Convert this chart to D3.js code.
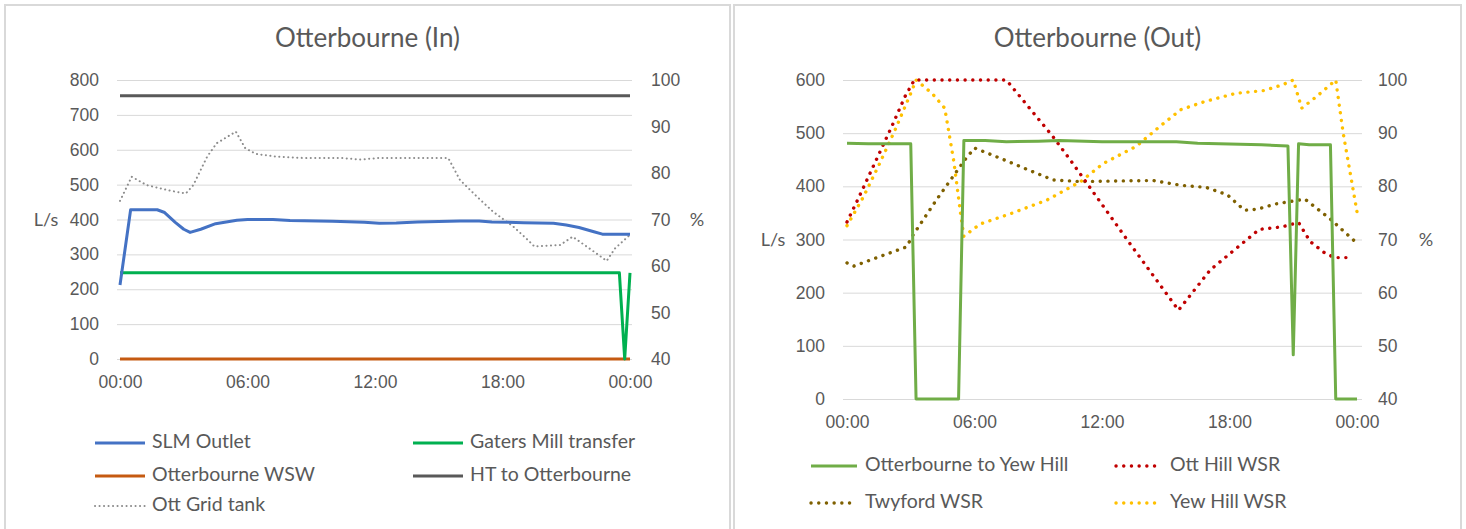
<!DOCTYPE html>
<html>
<head>
<meta charset="utf-8">
<script src="https://cdn.jsdelivr.net/npm/d3@7"></script>
<style>
  html, body { margin: 0; padding: 0; background: #fff; }
  svg { display: block; font-family: Lato, "Open Sans", sans-serif; }
</style>
</head>
<body>
<svg id="chart" width="1466" height="529"></svg>
<script>
// Hour of day (0–24) and value pairs for each series.
const hourTicks = [0, 6, 12, 18, 24];
const hourLabels = ["00:00", "06:00", "12:00", "18:00", "00:00"];

// Otterbourne (In) — flows in L/s, tank level in %
const inFlowTicks = [0, 100, 200, 300, 400, 500, 600, 700, 800];
const inPctTicks = [40, 50, 60, 70, 80, 90, 100];

const slmOutlet = [[0, 212], [0.5, 428], [1.75, 428], [2.1, 420], [2.6, 392], [3.0, 372], [3.3, 363],
  [3.8, 372], [4.5, 388], [5.5, 398], [6, 400], [7.2, 400], [8, 397], [10, 395], [11.5, 392],
  [12.2, 389], [13, 390], [14, 393], [16, 396], [16.9, 396], [17.5, 393], [19, 391], [20.4, 389],
  [21, 384], [21.6, 377], [22.3, 365], [22.7, 358], [24, 358]];
const gatersMill = [[0, 247], [23.5, 247], [23.75, 0], [24, 247]];
const otterbourneWSW = [[0, 0], [24, 0]];
const htToOtterbourne = [[0, 755], [24, 755]];
const ottGridTank = [[0, 74.0], [0.55, 79.2], [1.25, 77.4], [2.35, 76.2], [3.1, 75.6], [3.45, 77.4],
  [4.1, 83.5], [4.55, 86.4], [5.45, 88.9], [5.9, 85.3], [6.4, 84.1], [7.4, 83.5], [8.8, 83.2],
  [10.5, 83.2], [11.3, 82.9], [12.1, 83.2], [15.45, 83.2], [16, 78.5], [16.8, 74.9], [17.55, 71.7],
  [18.5, 68.5], [19.1, 66.0], [19.5, 64.2], [20.7, 64.5], [21.3, 66.3], [22.3, 63.1], [22.9, 61.1],
  [23.3, 63.8], [24, 66.7]];

// Otterbourne (Out) — transfer in L/s, reservoir levels in %
const outFlowTicks = [0, 100, 200, 300, 400, 500, 600];
const outPctTicks = [40, 50, 60, 70, 80, 90, 100];

const ottToYewHill = [[0, 481], [1, 480], [3.0, 480], [3.25, 0], [5.25, 0], [5.5, 486], [6.5, 486],
  [7.5, 484], [9, 485], [10, 486], [12, 484], [15.5, 484], [16.5, 481], [18.5, 479], [19.5, 478],
  [20.75, 476], [21.0, 83], [21.25, 480], [21.75, 478], [22.75, 478], [23.0, 0], [24, 0]];
const ottHillWSR = [[0, 73.3], [0.53, 77.7], [1.24, 83.8], [2.1, 91.2], [2.73, 96.9], [3.17, 100],
  [7.5, 100], [9.7, 89.3], [10.5, 85], [13.3, 69.3], [15.6, 56.7], [17.1, 64.3], [19.4, 71.9],
  [20.5, 72.4], [21.25, 73.2], [21.8, 69.6], [22.5, 67.4], [22.95, 66.6], [23.75, 66.6]];
const twyfordWSR = [[0, 65.6], [0.33, 65.0], [1.55, 66.8], [2.8, 68.6], [3.1, 70.8], [4.2, 77.4],
  [5.55, 85.0], [6.0, 87.2], [7.2, 85.3], [8.77, 82.7], [9.7, 81.2], [11, 80.9], [14.4, 81.1],
  [15.7, 80.2], [16.9, 79.8], [17.9, 78.4], [18.7, 75.5], [19.3, 75.7], [20.2, 76.7], [21.55, 77.6],
  [22.7, 74.0], [24, 69.3]];
const yewHillWSR = [[0, 72.6], [0.77, 78.0], [1.5, 84], [2.25, 90.5], [3.0, 97.5], [3.25, 100],
  [4.0, 97.5], [4.6, 94.7], [5.03, 84.6], [5.36, 74.4], [5.5, 70.6], [6.26, 72.9], [7.8, 75.0],
  [9.4, 77.4], [11, 80.9], [12.06, 84.3], [13.6, 87.5], [14.7, 91.2], [15.7, 94.4], [16.8, 95.9],
  [18.3, 97.5], [19.6, 98.0], [20.5, 99.1], [21.0, 100], [21.4, 94.7], [22.1, 96.9], [23.0, 100],
  [23.35, 90.0], [24, 75.2]];

const svg = d3.select("#chart");
const textColor = "#595959";
const gridColor = "#D9D9D9";

// Line styles
const solid = { width: 3, dash: null, cap: "butt" };
const fineDot = { width: 2, dash: "0.1,4.4", cap: "round" };
const roundDot = { width: 3.4, dash: "0.1,7.6", cap: "round" };

function drawPanel(p) {
  const g = svg.append("g");

  // panel frame
  g.append("rect")
    .attr("x", p.frame[0]).attr("y", p.frame[1])
    .attr("width", p.frame[2]).attr("height", p.frame[3])
    .attr("fill", "#fff").attr("stroke", gridColor).attr("stroke-width", 2);

  g.append("text")
    .attr("x", p.frame[0] + p.frame[2] / 2).attr("y", 40)
    .attr("text-anchor", "middle").attr("dominant-baseline", "middle")
    .attr("font-size", 26).attr("fill", textColor).text(p.title);

  const x = d3.scaleLinear().domain([0, 24]).range([p.x0, p.x1]);
  const yL = d3.scaleLinear().domain(p.leftDomain).range([p.yBottom, p.yTop]);
  const yR = d3.scaleLinear().domain([40, 100]).range([p.yBottom, p.yTop]);

  // gridlines
  const grid = g.append("g").attr("transform", `translate(${p.gx0},0)`)
    .call(d3.axisLeft(yL).tickValues(p.leftTicks).tickSize(-(p.gx1 - p.gx0)).tickFormat(""));
  grid.select(".domain").remove();
  grid.selectAll("line").attr("stroke", gridColor).attr("stroke-width", 1);

  // left axis
  const ax = g.append("g").attr("transform", `translate(${p.gx0},0)`)
    .call(d3.axisLeft(yL).tickValues(p.leftTicks).tickSize(0).tickPadding(18));
  ax.select(".domain").remove();
  ax.selectAll("text").attr("font-size", 17.5).attr("fill", textColor).attr("font-family", null);

  // right axis
  const ar = g.append("g").attr("transform", `translate(${p.gx1},0)`)
    .call(d3.axisRight(yR).tickValues(p.rightTicks).tickSize(0).tickPadding(p.rightPad));
  ar.select(".domain").remove();
  ar.selectAll("text").attr("font-size", 17.5).attr("fill", textColor).attr("font-family", null);

  // time axis
  const axb = g.append("g").attr("transform", `translate(0,${p.yBottom})`)
    .call(d3.axisBottom(x).tickValues(hourTicks).tickSize(0).tickPadding(17)
      .tickFormat((d, i) => hourLabels[i]));
  axb.select(".domain").remove();
  axb.selectAll("text").attr("font-size", 17.5).attr("fill", textColor).attr("font-family", null);

  // axis titles
  g.append("text").attr("x", p.lsX).attr("y", p.unitY)
    .attr("text-anchor", "middle").attr("dominant-baseline", "middle")
    .attr("font-size", 18).attr("fill", textColor).text("L/s");
  g.append("text").attr("x", p.pctX).attr("y", p.unitY)
    .attr("text-anchor", "middle").attr("dominant-baseline", "middle")
    .attr("font-size", 18).attr("fill", textColor).text("%");

  // series
  p.series.forEach(s => {
    const y = s.axis === "left" ? yL : yR;
    const line = d3.line().x(d => x(d[0])).y(d => y(d[1]));
    g.append("path").datum(s.data)
      .attr("d", line)
      .attr("fill", "none")
      .attr("stroke", s.color)
      .attr("stroke-width", s.style.width)
      .attr("stroke-dasharray", s.style.dash)
      .attr("stroke-linecap", s.style.cap)
      .attr("stroke-linejoin", "round");
  });

  // legend
  p.series.forEach(s => {
    const [lx, ly] = s.legend;
    g.append("line")
      .attr("x1", lx).attr("x2", lx + p.legendLen)
      .attr("y1", ly).attr("y2", ly)
      .attr("stroke", s.color)
      .attr("stroke-width", s.style.width)
      .attr("stroke-dasharray", s.style.dash)
      .attr("stroke-linecap", s.style.cap);
    g.append("text")
      .attr("x", lx + p.legendLen + p.legendGap).attr("y", ly)
      .attr("dominant-baseline", "middle")
      .attr("font-size", 19.5).attr("fill", textColor).text(s.name);
  });
}

drawPanel({
  title: "Otterbourne (In)",
  frame: [5, 5, 725, 540],
  x0: 120, x1: 630, gx0: 117, gx1: 632,
  yTop: 80, yBottom: 359,
  leftDomain: [0, 800], leftTicks: inFlowTicks, rightTicks: inPctTicks, rightPad: 19,
  lsX: 46, pctX: 697, unitY: 221,
  legendLen: 50, legendGap: 7,
  series: [
    { name: "Otterbourne WSW", data: otterbourneWSW, axis: "left", color: "#C55A11", style: solid, legend: [95, 476] },
    { name: "HT to Otterbourne", data: htToOtterbourne, axis: "left", color: "#595959", style: solid, legend: [413, 476] },
    { name: "Ott Grid tank", data: ottGridTank, axis: "right", color: "#8C8C8C", style: fineDot, legend: [95, 506] },
    { name: "Gaters Mill transfer", data: gatersMill, axis: "left", color: "#00B050", style: solid, legend: [413, 443] },
    { name: "SLM Outlet", data: slmOutlet, axis: "left", color: "#4472C4", style: solid, legend: [95, 443] }
  ]
});

drawPanel({
  title: "Otterbourne (Out)",
  frame: [734, 5, 727, 540],
  x0: 847, x1: 1357, gx0: 843, gx1: 1362,
  yTop: 80, yBottom: 399,
  leftDomain: [0, 600], leftTicks: outFlowTicks, rightTicks: outPctTicks, rightPad: 16,
  lsX: 773, pctX: 1426, unitY: 241,
  legendLen: 46, legendGap: 8,
  series: [
    { name: "Twyford WSR", data: twyfordWSR, axis: "right", color: "#7F6000", style: roundDot, legend: [811, 503] },
    { name: "Yew Hill WSR", data: yewHillWSR, axis: "right", color: "#FFC000", style: roundDot, legend: [1116, 503] },
    { name: "Ott Hill WSR", data: ottHillWSR, axis: "right", color: "#C00000", style: roundDot, legend: [1116, 466] },
    { name: "Otterbourne to Yew Hill", data: ottToYewHill, axis: "left", color: "#70AD47", style: solid, legend: [811, 466] }
  ]
});
</script>
</body>
</html>
